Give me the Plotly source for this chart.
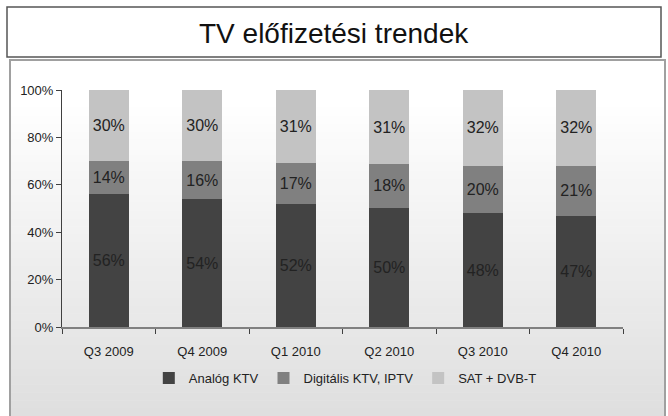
import plotly.graph_objects as go

categories = ["Q3 2009", "Q4 2009", "Q1 2010", "Q2 2010", "Q3 2010", "Q4 2010"]
analog = [56, 54, 52, 50.4, 48, 47]
digital = [14, 16, 17, 18.2, 20, 21]
sat = [30, 30, 31, 31.4, 32, 32]
series_names = ["Analóg KTV", "Digitális KTV, IPTV", "SAT + DVB-T"]
colors = ["#434343", "#808080", "#c3c3c3"]
title_text = "TV előfizetési trendek"

W, H = 668, 416
L, R, T, B = 62, 45, 90, 89
pw, ph = W - L - R, H - T - B

def px_x(X):
    return (X - L) / pw

def px_y(Y):
    return (H - B - Y) / ph

FONT = "Liberation Sans, Arial, sans-serif"

fig = go.Figure()
for name, vals, col in zip(series_names, [analog, digital, sat], colors):
    fig.add_trace(go.Bar(
        x=categories, y=vals, name=name, marker=dict(color=col, line=dict(width=0)),
        text=[f"{round(v):d}%" for v in vals],
        textposition="inside", insidetextanchor="middle",
        textangle=0, textfont=dict(family=FONT, size=16, color="#222222"),
        constraintext="none",
    ))

shapes = []
x0, x1 = px_x(10), px_x(665)
top, bot = 60, 416
n = 45
for i in range(n):
    ya = top + (bot - top) * i / n
    yb = top + (bot - top) * (i + 1) / n
    if ya < 95:
        c = 255
    else:
        tt = (ya - 95) / (bot - 95)
        c = int(round(255 - tt * (255 - 222)))
    shapes.append(dict(type="rect", xref="paper", yref="paper", x0=x0, x1=x1,
                       y0=px_y(yb + 0.5), y1=px_y(ya), fillcolor=f"rgb({c},{c},{c})",
                       line=dict(width=0), layer="below"))
shapes.append(dict(type="rect", xref="paper", yref="paper", x0=x0, x1=x1,
                   y0=px_y(418), y1=px_y(60), line=dict(color="#a0a0a0", width=2),
                   fillcolor="rgba(0,0,0,0)", layer="below"))
shapes.append(dict(type="rect", xref="paper", yref="paper", x0=px_x(7), x1=px_x(661),
                   y0=px_y(57), y1=px_y(7), line=dict(color="#555555", width=1.5),
                   fillcolor="white", layer="below"))

fig.update_layout(
    width=W, height=H,
    margin=dict(l=L, r=R, t=T, b=B),
    barmode="stack", bargap=0.57,
    paper_bgcolor="white", plot_bgcolor="rgba(0,0,0,0)",
    font=dict(family=FONT, color="#222222"),
    shapes=shapes,
    showlegend=True,
    legend=dict(orientation="h", x=0.505, xanchor="center", y=px_y(363), yanchor="top",
                font=dict(family=FONT, size=13, color="#222222"),
                bgcolor="rgba(0,0,0,0)", traceorder="normal", itemwidth=30),
    annotations=[dict(text=title_text, xref="paper", yref="paper", x=px_x(334), y=px_y(33),
                      xanchor="center", yanchor="middle", showarrow=False,
                      font=dict(family=FONT, size=28, color="#111111"))],
)
fig.update_xaxes(showgrid=False, showline=True, linecolor="#808080", linewidth=2,
                 ticks="outside", tickson="boundaries", ticklen=5, tickcolor="#404040",
                 ticklabelstandoff=11,
                 tickfont=dict(family=FONT, size=13, color="#222222"))
fig.update_yaxes(range=[0, 100], dtick=20, ticksuffix="%", showgrid=False, showline=True,
                 linecolor="#404040", linewidth=1, ticks="outside", ticklen=5,
                 tickcolor="#404040", zeroline=False,
                 tickfont=dict(family=FONT, size=13, color="#222222"))

fig.write_html("out.html", config={"displayModeBar": False},
               post_script="document.body.style.margin='0';document.body.style.padding='0';")
